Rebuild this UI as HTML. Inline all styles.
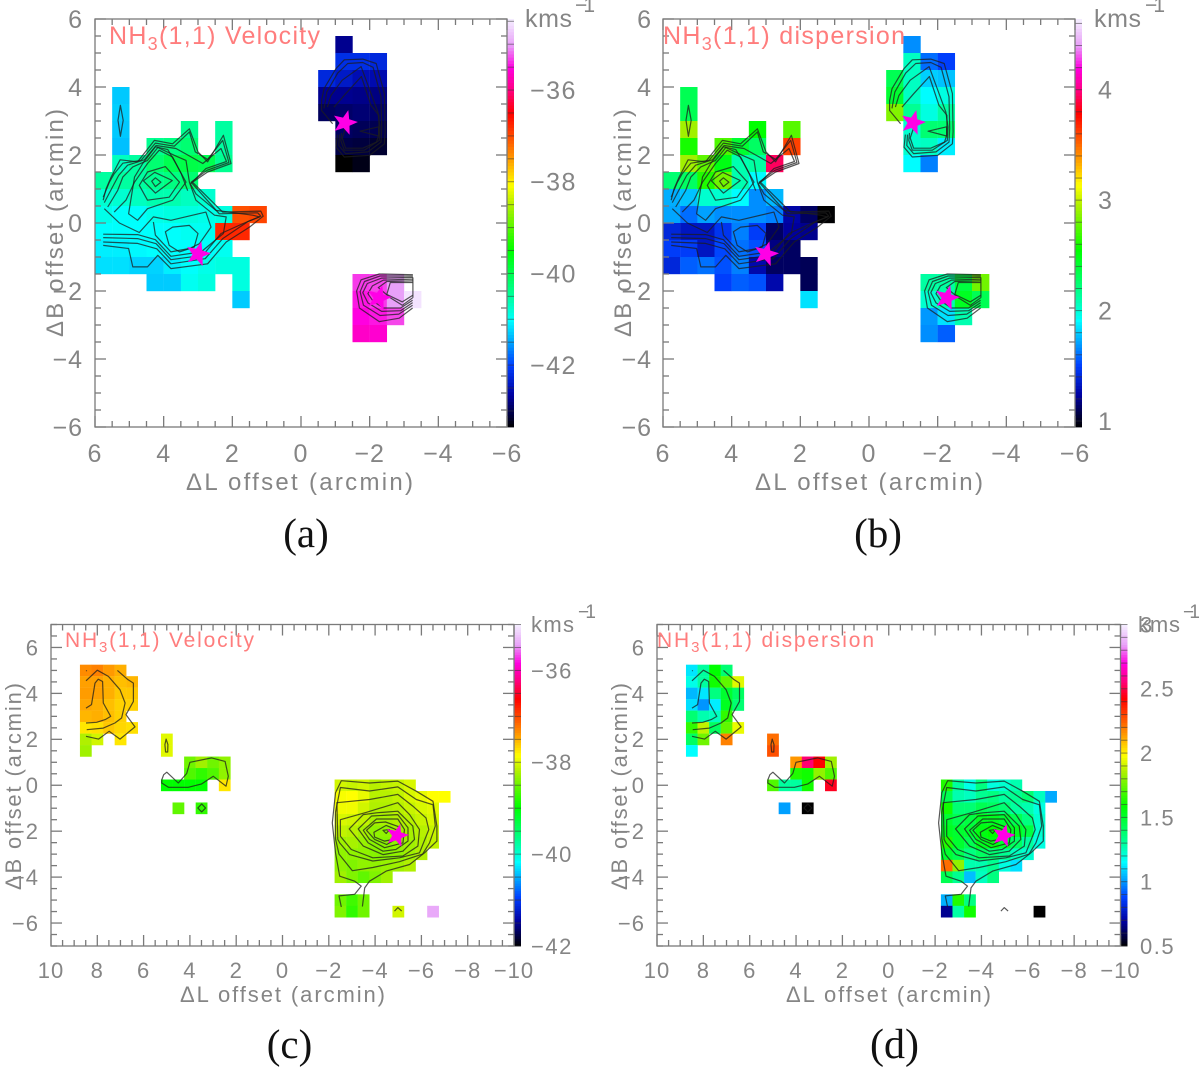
<!DOCTYPE html>
<html lang="en">
<head>
<meta charset="utf-8">
<title>NH3(1,1) velocity and dispersion maps</title>
<style>
html,body{margin:0;padding:0;background:#fff}
#figure{display:block;width:1200px;height:1078px}
.gray{font-family:"Liberation Sans",sans-serif;fill:#858585}
.ttl{font-family:"Liberation Sans",sans-serif;fill:#ff7d7d}
.cap{font-family:"Liberation Serif",serif;fill:#111;font-size:41px;text-anchor:middle}
</style>
</head>
<body>
<svg id="figure" xmlns="http://www.w3.org/2000/svg" width="1200" height="1078" viewBox="0 0 1200 1078">
  <rect x="0" y="0" width="1200" height="1078" fill="#fff"/>
  <g id="panels"></g>

  <g>
    <text class="ttl" x="109" y="44" font-size="25" textLength="211" lengthAdjust="spacing">NH<tspan dy="6" font-size="18">3</tspan><tspan dy="-6">(1,1) Velocity</tspan></text>
    <text class="gray" x="186" y="490" font-size="24" textLength="227" lengthAdjust="spacing">ΔL offset (arcmin)</text>
    <text class="gray" transform="translate(63,337) rotate(-90)" font-size="24" textLength="228" lengthAdjust="spacing">ΔB offset (arcmin)</text>
    <text class="gray" x="525" y="27" font-size="25" textLength="47" lengthAdjust="spacing">kms</text>
    <text class="gray" x="575" y="12" font-size="21" textLength="20" lengthAdjust="spacing">−1</text>
    <text class="cap" x="306" y="547">(a)</text>
  </g>
  <g>
    <text class="ttl" x="663" y="44" font-size="25" textLength="242" lengthAdjust="spacing">NH<tspan dy="6" font-size="18">3</tspan><tspan dy="-6">(1,1) dispersion</tspan></text>
    <text class="gray" x="755" y="490" font-size="24" textLength="228" lengthAdjust="spacing">ΔL offset (arcmin)</text>
    <text class="gray" transform="translate(631,337) rotate(-90)" font-size="24" textLength="228" lengthAdjust="spacing">ΔB offset (arcmin)</text>
    <text class="gray" x="1094" y="27" font-size="25" textLength="47" lengthAdjust="spacing">kms</text>
    <text class="gray" x="1145" y="12" font-size="21" textLength="20" lengthAdjust="spacing">−1</text>
    <text class="cap" x="878" y="547">(b)</text>
  </g>
  <g>
    <text class="ttl" x="65" y="647" font-size="21" textLength="189" lengthAdjust="spacing">NH<tspan dy="5" font-size="15">3</tspan><tspan dy="-5">(1,1) Velocity</tspan></text>
    <text class="gray" x="180" y="1002" font-size="22" textLength="205" lengthAdjust="spacing">ΔL offset (arcmin)</text>
    <text class="gray" transform="translate(21,890) rotate(-90)" font-size="22" textLength="207" lengthAdjust="spacing">ΔB offset (arcmin)</text>
    <text class="gray" x="531" y="632" font-size="22" textLength="43" lengthAdjust="spacing">kms</text>
    <text class="gray" x="578" y="618" font-size="19" textLength="18" lengthAdjust="spacing">−1</text>
    <text class="cap" x="289.5" y="1058">(c)</text>
  </g>
  <g>
    <text class="ttl" x="657" y="647" font-size="21" textLength="217" lengthAdjust="spacing">NH<tspan dy="5" font-size="15">3</tspan><tspan dy="-5">(1,1) dispersion</tspan></text>
    <text class="gray" x="786" y="1002" font-size="22" textLength="205" lengthAdjust="spacing">ΔL offset (arcmin)</text>
    <text class="gray" transform="translate(627,890) rotate(-90)" font-size="22" textLength="207" lengthAdjust="spacing">ΔB offset (arcmin)</text>
    <text class="gray" x="1138" y="632" font-size="22" textLength="42" lengthAdjust="spacing">kms</text>
    <text class="gray" x="1183" y="618" font-size="19" textLength="17" lengthAdjust="spacing">−1</text>
    <text class="cap" x="894.5" y="1058" style="font-size:42px">(d)</text>
  </g>
</svg>

<script>
/* Heatmap rows: [top edge of ΔB row, left edge of first ΔL cell, [cell values]] */
const velocityRowsA = [
  [5.5,-1,[-42.73]],
  [5,-1,[-42.17,-42.17,-42.24]],
  [4.5,-0.5,[-42.24,-42.39,-42.52,-42.55]],
  [4,5.5,[-41.3]],
  [4,-0.5,[-42.73,-42.73,-42.76,-42.79]],
  [3.5,5.5,[-41.27]],
  [3.5,-0.5,[-42.95,-42.9,-42.85,-42.9]],
  [3,5.5,[-41.3]],
  [3,3.5,[-40.41]],
  [3,2.5,[-40.51]],
  [3,-1,[-42.93,-42.97,-43]],
  [2.5,5.5,[-41.35]],
  [2.5,4.5,[-40.41,-40.31,-40.21]],
  [2.5,2.5,[-40.51]],
  [2.5,-1,[-43.05,-43.08,-43.14]],
  [2,5.5,[-40.68,-40.51,-40.21,-40,-39.95,-40,-40.41]],
  [2,-1,[-43.35,-43.25]],
  [1.5,6,[-40.51,-40.51,-40.51,-40.41,-40.31,-40.21]],
  [1,6,[-40.77,-40.77,-40.68,-40.59,-40.59,-40.68,-40.77]],
  [0.5,6,[-40.9,-41,-41,-40.9,-40.85,-40.85,-40.9,-40.85,-37.03,-36.95]],
  [0,6,[-41.02,-41,-41.02,-41,-41,-40.95,-40.95,-36.76,-36.76]],
  [-0.5,6,[-41.1,-41.1,-41.05,-41.02,-41.02,-41.02,-41,-40.95]],
  [-1,6,[-41.18,-41.18,-41.25,-41.25,-41.1,-41,-40.9,-40.85,-40.85]],
  [-1.5,4.5,[-41.29,-41.29,-40.95,-40.85]],
  [-1.5,2,[-40.85]],
  [-2,2,[-41.29]],
  [-1.5,-1.5,[-35.34,-35.3,-35.02]],
  [-2,-1.5,[-35.45,-35.34,-35.02,-34.54]],
  [-2.5,-1.5,[-35.52,-35.45,-35.3]],
  [-3,-1.5,[-35.64,-35.6]]
];
const dispersionRowsB = [
  [5.5,-1,[1.67]],
  [5,-1,[2.05,1.6,1.5]],
  [4.5,-0.5,[2.33,2.05,1.81,1.78]],
  [4,5.5,[2.33]],
  [4,-0.5,[2.42,2.05,1.91,1.98]],
  [3.5,5.5,[2.33]],
  [3.5,-0.5,[2.85,2.16,1.98,2.12]],
  [3,5.5,[2.92]],
  [3,3.5,[2.55]],
  [3,2.5,[2.75]],
  [3,-1,[2.02,2.25,2.25]],
  [2.5,5.5,[2.6]],
  [2.5,4.5,[2.73,2.42,2.29]],
  [2.5,2.5,[3.61]],
  [2.5,-1,[2.02,2.05,1.88]],
  [2,5.5,[2.92,2.77,2.5,2.09,2.12,3.94]],
  [2,-1,[1.91,1.64]],
  [1.5,6,[2.25,2.29,2.62,2.81,2.09,1.91]],
  [1,6,[1.74,1.78,2.02,2.02,1.91,1.67,1.76]],
  [0.5,6,[1.72,1.6,1.71,1.67,1.67,1.67,1.64,1.25,1.12,0.95]],
  [0,6,[1.4,1.33,1.33,1.46,1.64,1.49,1.12,1.23,1.2]],
  [-0.5,6,[1.49,1.49,1.33,1.52,1.61,1.54,1.18,1.12]],
  [-1,6,[1.4,1.57,1.61,1.54,1.64,1.27,1.12,1.12,1.1]],
  [-1.5,4.5,[1.5,1.57,1.54,1.27]],
  [-1.5,2,[1.1]],
  [-2,2,[1.85]],
  [-1.5,-1.5,[2.12,2.12,2.38,2.81]],
  [-2,-1.5,[2.02,2.09,2.46,2.33]],
  [-2.5,-1.5,[1.69,1.85,2.09]],
  [-3,-1.5,[1.67,1.57]]
];
const velocityRowsC = [
  [5.25,8.75,[-37.32,-37.27,-37.39,-37.49]],
  [4.75,8.75,[-37.42,-37.42,-37.49,-37.56,-37.52]],
  [4.25,8.75,[-37.4,-37.42,-37.49,-37.6,-37.6]],
  [3.75,8.75,[-37.45,-37.49,-37.56,-37.64,-37.64]],
  [3.25,8.75,[-37.52,-37.49,-37.56,-37.64]],
  [2.75,8.75,[-37.74,-37.71,-37.6,-37.67,-37.71]],
  [2.25,8.75,[-38.19,-38.05]],
  [2.25,7.25,[-37.74]],
  [2.25,5.25,[-37.98]],
  [1.75,8.75,[-38.26]],
  [1.75,5.25,[-37.98]],
  [1.25,4.25,[-38.47,-38.26,-38.47,-38.33]],
  [0.75,4.25,[-38.61,-38.75,-38.61,-38.33]],
  [0.25,5.25,[-38.96,-38.96,-38.96,-38.96]],
  [0.25,2.75,[-37.74]],
  [0.25,-2.25,[-38.05,-38.09,-38.05,-38.16,-38.12,-38.09,-38.02]],
  [-0.25,-2.25,[-37.88,-37.85,-37.95,-38.16,-38.16,-38.12,-38.02,-37.95,-37.85,-37.85]],
  [-0.75,4.75,[-38.54]],
  [-0.75,3.75,[-38.75]],
  [-0.75,-2.25,[-37.91,-37.91,-38.05,-38.19,-38.19,-38.16,-38.09,-38.02,-37.98]],
  [-1.25,-2.25,[-38.02,-38.05,-38.12,-38.23,-38.23,-38.19,-38.16,-38.09,-38.02]],
  [-1.75,-2.25,[-38.12,-38.16,-38.23,-38.33,-38.33,-38.26,-38.23,-38.16,-38.09]],
  [-2.25,-2.25,[-38.26,-38.23,-38.3,-38.37,-38.37,-38.33,-38.26,-38.19,-38.12]],
  [-2.75,-2.25,[-38.33,-38.33,-38.33,-38.37,-38.37,-38.33,-38.26,-38.19]],
  [-3.25,-2.25,[-38.33,-38.4,-38.33,-38.33,-38.3,-38.26,-38.19]],
  [-3.75,-2.25,[-38.26,-38.4,-38.54,-38.4,-38.26]],
  [-4.75,-2.25,[-38.47,-38.68,-38.47]],
  [-5.25,-2.25,[-38.4,-38.75,-38.47]],
  [-5.25,-4.75,[-38.05]],
  [-5.25,-6.25,[-35.4]]
];
const dispersionRowsD = [
  [5.25,8.75,[1.12,1.3,1.585,1.38]],
  [4.75,8.75,[1.19,1.3,1.61,1.735,1.935]],
  [4.25,8.75,[1.05,1.12,1.355,1.5,1.41]],
  [3.75,8.75,[1.11,1,1.13,1.53,1.38]],
  [3.25,8.75,[1.38,1.275,1.25,1.66]],
  [2.75,8.75,[1.66,1.885,1.41,1.735,1.95]],
  [2.25,8.75,[1.41,1.76]],
  [2.25,7.25,[2.19]],
  [2.25,5.25,[2.225]],
  [1.75,8.75,[1.155]],
  [1.75,5.25,[2.275]],
  [1.25,4.25,[2.15,2.55,2.425,1.835]],
  [0.75,4.25,[1.635,1.61,1.81,1.71]],
  [0.25,5.25,[1.71,1.3,1.3,1.61]],
  [0.25,2.75,[2.46]],
  [0.25,-2.25,[1.635,1.3,1.19,1.355,1.2,1.225,1.275]],
  [-0.25,-2.25,[1.44,1.275,1.25,1.325,1.355,1.3,1.325,1.38,1.25,1.03]],
  [-0.75,4.75,[1.015]],
  [-0.75,3.75,[0.5]],
  [-0.75,-2.25,[1.61,1.38,1.38,1.44,1.41,1.38,1.3,1.275,1.2]],
  [-1.25,-2.25,[1.5,1.44,1.47,1.53,1.53,1.5,1.44,1.355,1.225]],
  [-1.75,-2.25,[1.53,1.5,1.5,1.555,1.585,1.555,1.53,1.47,1.225]],
  [-2.25,-2.25,[1.635,1.5,1.44,1.53,1.555,1.5,1.41,1.3,1.2]],
  [-2.75,-2.25,[1.5,1.44,1.355,1.41,1.38,1.325,1.25,1.225]],
  [-3.25,-2.25,[2.225,1.81,1.275,1.275,1.325,1.2,1.11]],
  [-3.75,-2.25,[1.44,1.325,1.06,1.25,1.355]],
  [-4.75,-2.25,[1.04,1.635,1.355]],
  [-5.25,-2.25,[0.675,1.29,1.61]],
  [-5.25,-6.25,[0.5]]
];

/* Integrated-intensity contours, as [ΔL, ΔB] vertices in arcmin */
const contoursOpenAB = [
  [[5.76,0.67],[5.68,1],[5.53,1.35],[5.27,1.86],[4.76,1.8],[4.27,2.43],[3.74,2.33],[3.25,2.77],[3,2.09],[2.72,1.8],[2.26,2.58],[2.04,1.75],[2.72,1.5],[3.16,1.2],[2.28,0.32],[1.17,0.35],[1.1,0.2],[1.5,-0.12],[2.18,-0.56],[2.72,-1.2],[3.79,-1.34],[4.17,-0.95],[4.47,-1.29],[4.9,-1.29],[5.02,-0.75],[5.76,-0.66]],
  [[5.76,0.76],[5.58,1.2],[5.44,1.45],[5.19,1.76],[4.66,1.84],[4.24,2.35],[3.69,2.26],[3.25,2.68],[3.08,2.09],[2.72,1.87],[2.28,2.43],[2.1,1.78],[2.74,1.55],[3.2,1.2],[2.38,0.27],[1.26,0.3],[1.17,0.2],[1.55,0.04],[2.28,-0.46],[2.79,-1.05],[3.79,-1.2],[4.2,-0.76],[4.76,-0.6],[5.76,-0.56]],
  [[5.73,0.6],[5.49,1.06],[5.31,1.4],[5.05,1.7],[4.56,1.86],[4.22,2.28],[3.64,2.19],[3.3,2],[2.86,1.75],[2.33,2.19],[2.17,1.81],[2.77,1.6],[3.22,1.15],[3.06,0.86],[2.48,0.37],[1.41,0.23],[1.21,0.18],[1.65,0],[2.33,-0.31],[2.86,-0.95],[3.79,-1.08],[4.22,-0.61],[4.76,-0.46],[5.76,-0.43]],
  [[5.63,0.47],[5.34,0.96],[5.19,1.35],[4.9,1.65],[4.47,1.84],[4.17,2.22],[3.69,1.99],[3.35,1.84],[3.25,1.2],[3.06,0.67],[2.52,0.23],[2.18,0.18],[2.26,-0.31],[2.91,-0.85],[3.79,-0.98],[4.24,-0.49],[4.76,-0.34],[5.76,-0.33]],
  [[5.73,0.42],[5.29,0],[4.71,-0.28],[4.3,0.18],[3.79,0.08],[2.77,0.32],[2.62,-0.12],[2.96,-0.61],[3.25,-0.75],[3.79,-0.85],[4.24,-0.36],[4.3,0.03]],
  [[5.44,0.32],[5.1,0.67],[4.85,1.2],[4.47,1.75],[4.13,2.14],[3.74,1.94],[3.49,1.45],[3.3,0.95]],
  [[-0.92,2.92],[-0.6,3.31],[-0.6,3.6],[-0.67,3.95],[-1.02,4.54],[-1.26,4.8],[-1.8,4.82],[-2.19,4.69],[-2.43,3.81],[-2.45,2.69],[-2.43,2.33],[-2,1.99],[-1.26,1.94],[-1.02,2.23],[-1.06,2.6]],
  [[-0.67,3.37],[-0.75,3.85],[-1.07,4.41],[-1.36,4.69],[-1.8,4.72],[-2.1,4.58],[-2.33,3.71],[-2.35,2.78],[-2.33,2.38],[-1.95,2.09],[-1.3,2.04],[-1.1,2.28],[-1.12,2.6]],
  [[-0.77,3.41],[-0.87,3.75],[-1.2,4.2],[-1.75,4.6],[-2.24,3.26],[-2.3,2.82],[-2.28,2.43],[-1.84,2.14],[-1.26,2.14],[-1.16,2.43],[-1.18,2.65]],
  [[-0.96,3.41],[-1.3,3.8],[-1.76,4.31],[-2.04,3.46],[-2.27,3.17],[-2.27,2.6],[-2.2,2.38],[-1.8,2.2],[-1.3,2.2],[-1.2,2.5],[-1.3,2.8]],
  [[-3.26,-1.52],[-2.28,-1.5],[-1.75,-1.67],[-1.62,-2],[-1.7,-2.5],[-2.28,-2.9],[-2.86,-2.8],[-3.25,-2.5]],
  [[-3.26,-1.56],[-2.3,-1.56],[-1.85,-1.72],[-1.72,-2.02],[-1.82,-2.42],[-2.3,-2.72],[-2.85,-2.68],[-3.25,-2.42]],
  [[-3.26,-1.6],[-2.35,-1.62],[-1.93,-1.78],[-1.8,-2.05],[-1.95,-2.35],[-2.35,-2.6],[-2.9,-2.58],[-3.25,-2.34]],
  [[-3.26,-1.65],[-2.4,-1.68],[-2.08,-1.85],[-1.95,-2.08],[-2.1,-2.3],[-2.4,-2.5],[-2.9,-2.5],[-3.25,-2.27]],
  [[-3.26,-1.7],[-2.5,-1.72],[-2.25,-1.9],[-2.6,-2.2],[-2.95,-2.42],[-3.25,-2.2]],
  [[-3.25,-1.75],[-2.6,-1.75],[-2.5,-2.1],[-2.95,-2.32],[-3.25,-2.13]],
  [[-3.26,-1.6],[-3.26,-2.2]]
];
const contoursClosedAB = [
  [[5.02,0.27],[4.76,0.08],[4.47,0.42],[3.74,0.67],[3.35,1.2],[3.64,1.74],[3.88,2.16],[4.24,2.24],[4.61,1.75],[4.85,1.35]],
  [[4.71,1.11],[4.47,1.5],[3.95,1.66],[3.54,1.2],[3.84,0.76],[4.47,0.67]],
  [[3.95,-0.26],[3.74,-0.12],[3.25,-0.07],[3,-0.31],[3.11,-0.71],[3.54,-0.85],[3.84,-0.66]],
  [[4.59,1.24],[4.26,1.49],[3.75,1.25],[4.24,0.88]],
  [[4.35,1.23],[4.24,1.33],[4.08,1.2],[4.24,1.07]],
  [[5.26,3.46],[5.18,3.02],[5.26,2.55],[5.33,3.02]],
  [[-1.72,2.7],[-2.26,2.83],[-2.26,2.56]]
];
const contoursOpenCD = [
  [[8.48,5],[8.46,4.97]],
  [[8.49,4.55],[8,5.01],[7.52,4.74],[7.02,4.16],[6.8,3.58],[6.95,2.93],[7.24,2.71],[7.74,2.49],[8.46,2.42]],
  [[8.49,3.36],[8.25,3.51],[8.1,4.45],[7.96,4.62],[7.77,4.52],[7.74,3.58],[7.42,3],[7.66,2.86],[8.03,2.74],[8.49,2.71]],
  [[7.13,5],[6.7,4.62],[6.44,4.45],[6.44,3.65],[6.76,3.07],[6.37,2.54],[7.02,2.01],[7.49,2.35],[7.95,2.01],[8.49,2.13]],
  [[-2.54,-5.3],[-2.44,-4.82],[-3.12,-4.75],[-3.4,-4.39],[-3.12,-4.18],[-2.47,-3.96],[-2.29,-2.94],[-2.15,-1.64],[-2.29,-0.33],[-2.54,0.2],[-3.76,0.1],[-4.98,0.18],[-5.78,-0.26],[-6.5,-0.7],[-6.67,-1.78],[-6.67,-2.43],[-6.14,-2.94],[-5.49,-3.45],[-4.48,-3.74],[-3.76,-4.18],[-3.55,-4.47],[-3.45,-5.28]],
  [[-4.84,-5.48],[-4.98,-5.33],[-5.15,-5.48]]
];
const contoursClosedCD = [
  [[5.03,2.01],[4.95,1.77],[4.96,1.45],[5.05,1.45],[5.08,1.77]],
  [[5.13,0.46],[5,0.57],[4.5,0.1],[4.14,0.51],[4,1],[3.06,1.19],[2.48,1.04],[2.34,0.39],[2.44,-0.04],[2.99,0.39],[3.49,0.06],[4.07,-0.09],[4.93,-0.09],[5.22,0.1],[5.21,0.25]],
  [[3.49,-0.81],[3.32,-0.99],[3.49,-1.16],[3.66,-0.99]],
  [[-2.29,-2.33],[-2.29,-1.18],[-2.5,-0.1],[-3.76,-0.25],[-4.98,-0.07],[-5.78,-0.62],[-6.5,-0.85],[-6.6,-1.78],[-6.35,-2.51],[-6.05,-3],[-5.05,-3.33],[-3.9,-3.58],[-3.02,-3.72],[-2.44,-3]],
  [[-2.39,-2.36],[-2.35,-0.76],[-3.76,-0.62],[-4.98,-0.4],[-5.63,-0.91],[-6.2,-1.42],[-6.32,-1.93],[-5.92,-2.94],[-5.05,-3.16],[-3.9,-3.3],[-2.9,-3.02],[-2.47,-2.51]],
  [[-2.5,-1.5],[-3.63,-1.18],[-4.98,-0.76],[-5.49,-1.28],[-5.92,-1.93],[-5.85,-2.65],[-5.2,-3.08],[-3.9,-3.16],[-2.97,-2.8],[-2.5,-2.22]],
  [[-2.88,-1.9],[-3.49,-1.28],[-4.06,-1.2],[-4.98,-1.13],[-5.63,-1.78],[-5.7,-2.36],[-5.2,-2.87],[-4.34,-3.02],[-3.49,-2.65]],
  [[-3.27,-1.9],[-3.85,-1.34],[-4.98,-1.28],[-5.42,-1.85],[-5.42,-2.43],[-4.9,-2.8],[-4.34,-2.87],[-3.7,-2.51]],
  [[-3.49,-1.96],[-4.06,-1.47],[-4.98,-1.47],[-5.27,-1.93],[-5.2,-2.51],[-4.41,-2.72],[-3.76,-2.36]],
  [[-3.63,-1.96],[-3.98,-1.64],[-4.45,-1.6],[-5,-1.8],[-5.12,-2.22],[-4.5,-2.58],[-3.98,-2.36]],
  [[-3.95,-2.05],[-4.48,-1.75],[-4.98,-1.96],[-4.9,-2.33],[-4.4,-2.43],[-3.98,-2.26]],
  [[-4.34,-1.96],[-4.62,-1.93],[-4.48,-2.1]]
];

/* Source positions [ΔL, ΔB] */
const starsAB = [[3,-0.91],[-1.28,2.95],[-2.27,-2.2]];
const starsCD = [[-4.95,-2.19]];

/* Axis tick labels */
const axisTicksAB = [6,4,2,0,-2,-4,-6];
const axisTicksCDX = [10,8,6,4,2,0,-2,-4,-6,-8,-10];
const axisTicksCDY = [6,4,2,0,-2,-4,-6];
const barTicksVelocityAB = [-42,-40,-38,-36];
const barTicksDispersionB = [1,2,3,4];
const barTicksVelocityC = [-42,-40,-38,-36];
const barTicksDispersionD = [0.5,1,1.5,2,2.5,3];

/* Colour table stops: [fraction along colour bar, r, g, b] */
const colourStops = [
  [0,0,0,0],[0.078,0,0,160],[0.152,0,64,255],[0.206,0,160,255],[0.262,0,255,255],
  [0.319,0,255,160],[0.434,0,255,0],[0.544,176,240,0],[0.593,255,255,0],[0.654,255,160,0],
  [0.71,255,80,0],[0.77,255,0,0],[0.826,255,0,128],[0.88,255,0,224],[0.936,232,160,248],[1,245,240,255]
];

const NS = 'http://www.w3.org/2000/svg';
const root = document.getElementById('panels');

function colourAt(f) {
  const t = Math.max(0, Math.min(1, f));
  for (let i = 1; i < colourStops.length; i++) {
    const a = colourStops[i - 1], b = colourStops[i];
    if (t <= b[0]) {
      const k = (t - a[0]) / (b[0] - a[0]);
      return 'rgb(' + [1, 2, 3].map(function (c) { return Math.round(a[c] + (b[c] - a[c]) * k); }).join(',') + ')';
    }
  }
  return 'rgb(245,240,255)';
}

function add(parent, tag, props) {
  const el = document.createElementNS(NS, tag);
  Object.keys(props).forEach(function (k) { el.setAttribute(k, props[k]); });
  parent.appendChild(el);
  return el;
}

function drawPanel(cfg) {
  const w = cfg.x1 - cfg.x0, h = cfg.y1 - cfg.y0;
  const xOf = function (l) { return cfg.x0 + (cfg.lMax - l) / (cfg.lMax - cfg.lMin) * w; };
  const yOf = function (b) { return cfg.y0 + (cfg.bMax - b) / (cfg.bMax - cfg.bMin) * h; };
  const barY = function (v) { return cfg.y1 - (v - cfg.vMin) / (cfg.vMax - cfg.vMin) * h; };

  const g = add(root, 'g', {});
  
  

  const cellLayer = add(g, 'g', {});
  
  
  cfg.rows.forEach(function (row) {
    row[2].forEach(function (value, i) {
      const left = row[1] - i * 0.5;
      const cell = add(cellLayer, 'rect', {
        x: xOf(left), y: yOf(row[0]),
        width: xOf(left - 0.5) - xOf(left) + 0.2,
        height: yOf(row[0] - 0.5) - yOf(row[0]) + 0.2,
        fill: colourAt((value - cfg.vMin) / (cfg.vMax - cfg.vMin))
      });
      
      
    });
  });

  const contourLayer = add(g, 'g', { fill: 'none', stroke: '#1e1e1e', 'stroke-width': 1.2, 'stroke-opacity': 0.75, 'stroke-linejoin': 'round' });
  
  
  const toPoints = function (line) { return line.map(function (p) { return xOf(p[0]).toFixed(1) + ',' + yOf(p[1]).toFixed(1); }).join(' '); };
  cfg.open.forEach(function (line) {
    const c = add(contourLayer, 'polyline', { points: toPoints(line) });
    
    
  });
  cfg.closed.forEach(function (line) {
    const c = add(contourLayer, 'polygon', { points: toPoints(line) });
    
    
  });

  cfg.stars.forEach(function (s) {
    const pts = [];
    for (let i = 0; i < 10; i++) {
      const r = i % 2 ? cfg.starR * 0.42 : cfg.starR;
      const a = (-90 + 15 + i * 36) * Math.PI / 180;
      pts.push((xOf(s[0]) + r * Math.cos(a)).toFixed(1) + ',' + (yOf(s[1]) + r * Math.sin(a)).toFixed(1));
    }
    const star = add(g, 'polygon', { points: pts.join(' '), fill: '#ff00e6' });
    
    
  });

  const bar = add(g, 'g', {});
  
  
  const steps = 128;
  for (let i = 0; i < steps; i++) {
    add(bar, 'rect', { x: cfg.x1, y: cfg.y1 - (i + 1) * h / steps, width: 7, height: h / steps + 0.4, fill: colourAt((i + 0.5) / steps) });
  }
  const firstTick = Math.ceil(cfg.vMin / cfg.barStep - 1e-9);
  const lastTick = Math.floor(cfg.vMax / cfg.barStep + 1e-9);
  for (let n = firstTick; n <= lastTick; n++) {
    add(bar, 'line', { x1: cfg.x1, x2: cfg.x1 + 7, y1: barY(n * cfg.barStep), y2: barY(n * cfg.barStep), stroke: '#333', 'stroke-width': 1, 'stroke-opacity': 0.55 });
  }
  cfg.barTicks.forEach(function (v) {
    const label = add(g, 'text', { x: cfg.barLabelX, y: barY(v) + cfg.tickSize * 0.36, 'font-size': cfg.tickSize, 'class': 'gray', 'letter-spacing': 1.5 });
    label.textContent = String(v).replace('-', '\u2212');
    
    
  });

  const axes = add(g, 'g', { stroke: '#7a7a7a', 'stroke-width': 1.3, fill: 'none' });
  
  
  add(axes, 'rect', { x: cfg.x0, y: cfg.y0, width: w, height: h });
  for (let k = 0; k * 0.5 <= cfg.lMax - cfg.lMin; k++) {
    const l = cfg.lMax - k * 0.5, len = k % 4 === 0 ? 11 : 6, x = xOf(l);
    add(axes, 'line', { x1: x, x2: x, y1: cfg.y0, y2: cfg.y0 + len });
    add(axes, 'line', { x1: x, x2: x, y1: cfg.y1, y2: cfg.y1 - len });
  }
  for (let k = 0; k * 0.5 <= cfg.bMax - cfg.bMin; k++) {
    const b = cfg.bMax - k * 0.5, len = (b % 2 === 0) ? 11 : 6, y = yOf(b);
    add(axes, 'line', { x1: cfg.x0, x2: cfg.x0 + len, y1: y, y2: y });
    add(axes, 'line', { x1: cfg.x1, x2: cfg.x1 - len, y1: y, y2: y });
  }
  cfg.xTicks.forEach(function (t) {
    const label = add(g, 'text', { x: xOf(t), y: cfg.xLabelY, 'font-size': cfg.tickSize, 'class': 'gray', 'text-anchor': 'middle', 'letter-spacing': 1 });
    label.textContent = String(t).replace('-', '\u2212');
    
    
  });
  cfg.yTicks.forEach(function (t) {
    const label = add(g, 'text', { x: cfg.yLabelX, y: yOf(t) + cfg.tickSize * 0.36, 'font-size': cfg.tickSize, 'class': 'gray', 'text-anchor': 'end', 'letter-spacing': 1 });
    label.textContent = String(t).replace('-', '\u2212');
    
    
  });
}

drawPanel({ id: 'a', x0: 95, x1: 507, y0: 19, y1: 427, lMax: 6, lMin: -6, bMax: 6, bMin: -6, vMin: -43.35, vMax: -34.45, barStep: 0.5,
  rows: velocityRowsA, open: contoursOpenAB, closed: contoursClosedAB, stars: starsAB, starR: 13,
  xTicks: axisTicksAB, yTicks: axisTicksAB, barTicks: barTicksVelocityAB, barLabelX: 530, tickSize: 25, xLabelY: 462, yLabelX: 83 });
drawPanel({ id: 'b', x0: 663, x1: 1075, y0: 19, y1: 427, lMax: 6, lMin: -6, bMax: 6, bMin: -6, vMin: 0.946, vMax: 4.64, barStep: 0.2,
  rows: dispersionRowsB, open: contoursOpenAB, closed: contoursClosedAB, stars: starsAB, starR: 13,
  xTicks: axisTicksAB, yTicks: axisTicksAB, barTicks: barTicksDispersionB, barLabelX: 1098, tickSize: 25, xLabelY: 462, yLabelX: 652 });
drawPanel({ id: 'c', x0: 51, x1: 514, y0: 624.5, y1: 946, lMax: 10, lMin: -10, bMax: 7, bMin: -7, vMin: -42, vMax: -35, barStep: 0.5,
  rows: velocityRowsC, open: contoursOpenCD, closed: contoursClosedCD, stars: starsCD, starR: 12,
  xTicks: axisTicksCDX, yTicks: axisTicksCDY, barTicks: barTicksVelocityC, barLabelX: 531, tickSize: 22, xLabelY: 978, yLabelX: 39 });
drawPanel({ id: 'd', x0: 657, x1: 1120.5, y0: 624.5, y1: 946, lMax: 10, lMin: -10, bMax: 7, bMin: -7, vMin: 0.5, vMax: 3, barStep: 0.1,
  rows: dispersionRowsD, open: contoursOpenCD, closed: contoursClosedCD, stars: starsCD, starR: 12,
  xTicks: axisTicksCDX, yTicks: axisTicksCDY, barTicks: barTicksDispersionD, barLabelX: 1140, tickSize: 22, xLabelY: 978, yLabelX: 645 });
</script>
</body>
</html>
